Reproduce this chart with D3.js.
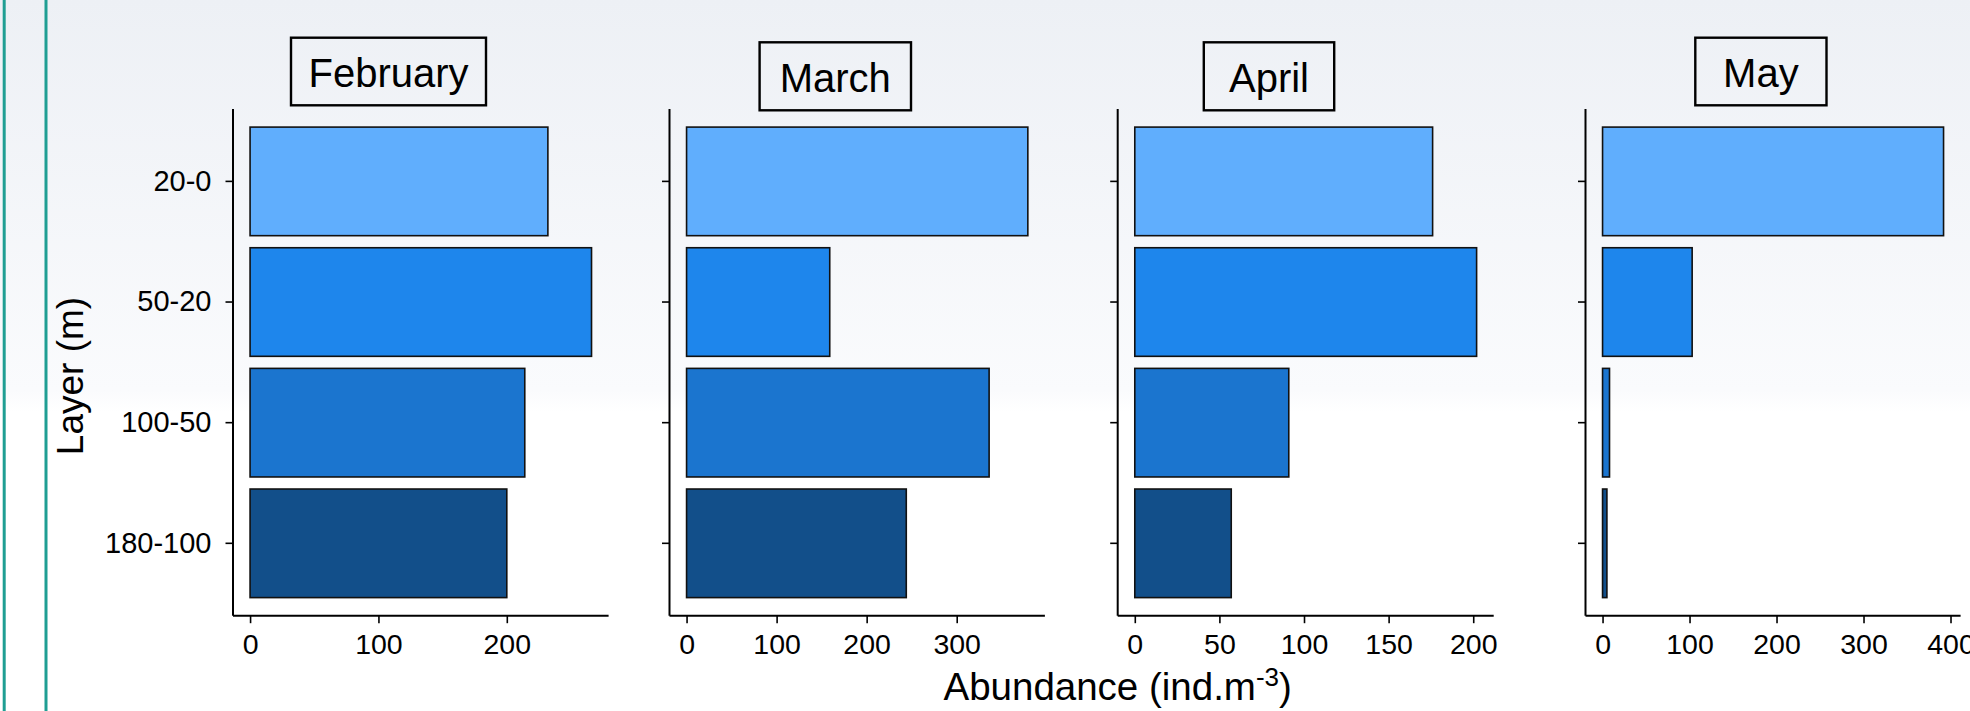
<!DOCTYPE html>
<html>
<head>
<meta charset="utf-8">
<script src="https://cdn.jsdelivr.net/npm/d3@7"></script>
<style>
  html, body { margin: 0; padding: 0; background: #ffffff; }
  svg { display: block; font-family: "Liberation Sans", Arial, sans-serif; }
</style>
</head>
<body>
<svg id="chart" width="1970" height="711"></svg>
<script>
// Depth layers (top to bottom) and their fill colours
const layers = ["20-0", "50-20", "100-50", "180-100"];
const layerColors = ["#60aefd", "#1e86ec", "#1b75cf", "#124f8a"];

// Abundance per layer (ind.m-3), one array per month
const months = ["February", "March", "April", "May"];
const february = [232, 266, 214, 200];
const march = [379, 159, 336, 244];
const april = [176, 202, 91, 57];
const may = [392, 103, 8, 5];

// Tick values shown on each month's x axis
const febTicks = [0, 100, 200];
const marTicks = [0, 100, 200, 300];
const aprTicks = [0, 50, 100, 150, 200];
const mayTicks = [0, 100, 200, 300, 400];

const series = [february, march, april, may];
const tickSets = [febTicks, marTicks, aprTicks, mayTicks];

// Panel placement: plot area x extent and strip label box
const panelLayout = [
  { x0: 233,    x1: 608.6,  box: { x: 291,    y: 37.7, w: 195,   h: 67.6 } },
  { x0: 669.5,  x1: 1044.9, box: { x: 759.6,  y: 42.3, w: 151.4, h: 68 } },
  { x0: 1117.7, x1: 1493.7, box: { x: 1203.8, y: 42.3, w: 130.4, h: 68 } },
  { x0: 1585.5, x1: 1960.6, box: { x: 1695.3, y: 37.7, w: 131.2, h: 67.6 } }
];
const plotTop = 109, plotBottom = 615.7;

const svg = d3.select("#chart");

// Background wash: pale blue-grey at the top fading to white
const defs = svg.append("defs");
const grad = defs.append("linearGradient")
  .attr("id", "bg").attr("x1", 0).attr("y1", 0).attr("x2", 0).attr("y2", 1);
grad.append("stop").attr("offset", "0%").attr("stop-color", "#edf0f5");
grad.append("stop").attr("offset", "55%").attr("stop-color", "#fafbfd");
grad.append("stop").attr("offset", "58%").attr("stop-color", "#ffffff");
grad.append("stop").attr("offset", "100%").attr("stop-color", "#ffffff");
svg.append("rect").attr("width", 1970).attr("height", 711).attr("fill", "url(#bg)");

// Teal frame lines on the left edge
[4.2, 46].forEach(x => {
  svg.append("line").attr("x1", x).attr("x2", x).attr("y1", 0).attr("y2", 711)
    .attr("stroke", "#1f9e93").attr("stroke-width", 3);
});

const y = d3.scaleBand()
  .domain(layers)
  .range([plotTop, plotBottom])
  .paddingInner(0.1)
  .paddingOuter(0.15);

const color = d3.scaleOrdinal().domain(layers).range(layerColors);

months.forEach((month, i) => {
  const lay = panelLayout[i];
  const values = series[i];
  const maxV = d3.max(values);
  const x = d3.scaleLinear()
    .domain([-0.05 * maxV, 1.05 * maxV])
    .range([lay.x0, lay.x1]);

  const g = svg.append("g").attr("class", "panel");

  // Bars
  g.selectAll("rect.bar")
    .data(layers.map((l, j) => ({ layer: l, value: values[j] })))
    .join("rect")
    .attr("class", "bar")
    .attr("x", x(0))
    .attr("y", d => y(d.layer))
    .attr("width", d => x(d.value) - x(0))
    .attr("height", y.bandwidth())
    .attr("fill", d => color(d.layer))
    .attr("stroke", "#111")
    .attr("stroke-width", 1.6);

  // X axis
  const xAxis = d3.axisBottom(x).tickValues(tickSets[i]).tickSize(7.5).tickPadding(11)
    .tickFormat(d3.format("d"));
  const gx = g.append("g").attr("transform", `translate(0,${plotBottom})`).call(xAxis);
  gx.select(".domain").attr("d", `M${lay.x0},0H${lay.x1}`).attr("stroke", "#000").attr("stroke-width", 2);
  gx.selectAll(".tick line").attr("stroke", "#000").attr("stroke-width", 1.6);
  gx.selectAll(".tick text").attr("font-size", 28.5).attr("fill", "#000")
    .attr("font-family", "Liberation Sans, Arial, sans-serif");

  // Y axis (labels only on the first panel)
  const yAxis = d3.axisLeft(y).tickSize(7.5).tickPadding(14);
  if (i > 0) yAxis.tickFormat(() => "");
  const gy = g.append("g").attr("transform", `translate(${lay.x0},0)`).call(yAxis);
  gy.select(".domain").attr("d", `M0,${plotTop}V${plotBottom}`).attr("stroke", "#000").attr("stroke-width", 2);
  gy.selectAll(".tick line").attr("stroke", "#000").attr("stroke-width", 1.6);
  gy.selectAll(".tick text").attr("font-size", 29).attr("fill", "#000")
    .attr("font-family", "Liberation Sans, Arial, sans-serif");

  // Strip label
  const b = lay.box;
  g.append("rect").attr("x", b.x).attr("y", b.y).attr("width", b.w).attr("height", b.h)
    .attr("fill", "none").attr("stroke", "#000").attr("stroke-width", 2.4);
  g.append("text").attr("x", b.x + b.w / 2).attr("y", b.y + 49.6)
    .attr("text-anchor", "middle").attr("font-size", 40).attr("fill", "#000")
    .text(month);
});

// Axis titles
const xt = svg.append("text").attr("x", 1117.7).attr("y", 700)
  .attr("text-anchor", "middle").attr("font-size", 38.5).attr("fill", "#000");
xt.append("tspan").text("Abundance (ind.m");
xt.append("tspan").attr("font-size", 26).attr("dy", -14).text("-3");
xt.append("tspan").attr("dy", 14).text(")");

svg.append("text")
  .attr("transform", "translate(83,376) rotate(-90)")
  .attr("text-anchor", "middle").attr("font-size", 37).attr("fill", "#000")
  .text("Layer (m)");
</script>
</body>
</html>
